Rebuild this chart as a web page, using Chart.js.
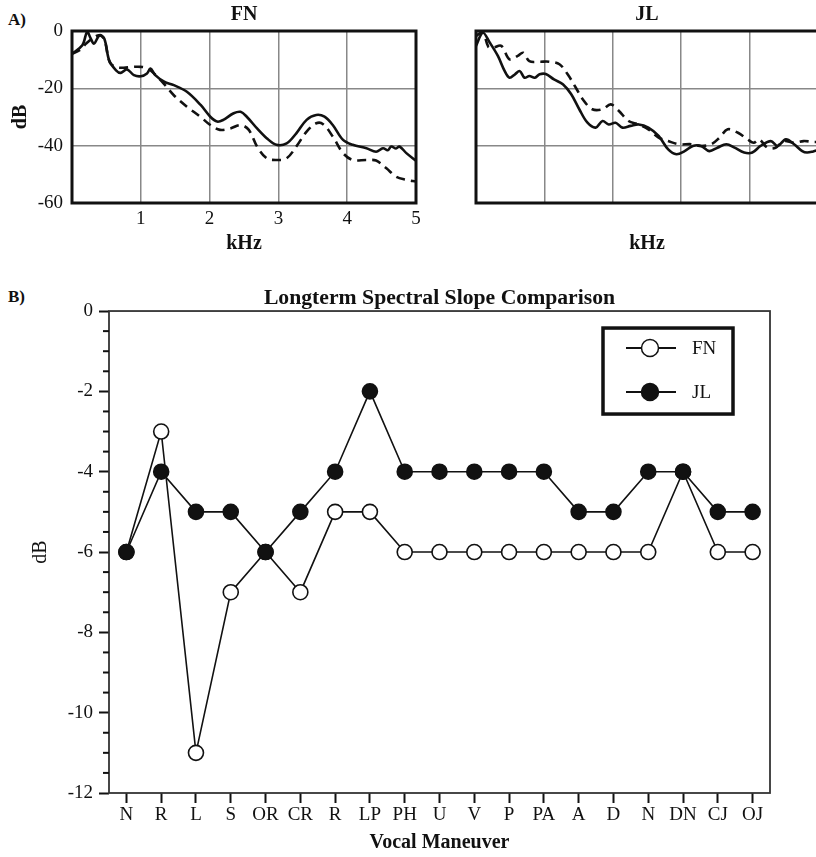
<!DOCTYPE html>
<html>
<head>
<meta charset="utf-8">
<title>Spectral slope</title>
<script src="https://cdn.jsdelivr.net/npm/chart.js@4.4.1/dist/chart.umd.min.js"></script>
<style>
  html, body { margin: 0; padding: 0; background: #fff; overflow: hidden; }
  #page { position: relative; width: 816px; height: 857px; overflow: hidden;
          font-family: "Liberation Serif", "Times New Roman", serif; color: #111; }
  canvas { position: absolute; }
  .tag { position: absolute; font-weight: bold; font-size: 17px; line-height: 20px; }
</style>
</head>
<body>
<div id="page">
  <div class="tag" style="left:8px;top:10px">A)</div>
  <div class="tag" style="left:8px;top:287px">B)</div>
  <canvas id="fn" width="430" height="262" style="left:0;top:0"></canvas>
  <canvas id="jl" width="392" height="262" style="left:440px;top:0"></canvas>
  <canvas id="slope" width="816" height="582" style="left:0;top:275px"></canvas>
</div>
<script>
// A) spectra (kHz / dB)
const fnSolidKhz = [0, 0.15, 0.22, 0.27, 0.32, 0.4, 0.47, 0.54, 0.64, 0.71, 0.8, 0.9, 1.0, 1.09, 1.14, 1.21,
  1.34, 1.48, 1.67, 1.87, 2.01, 2.11, 2.2, 2.35, 2.45, 2.54, 2.69, 2.83, 2.97, 3.12, 3.26, 3.41, 3.55,
  3.67, 3.79, 3.94, 4.08, 4.28, 4.42, 4.52, 4.59, 4.64, 4.71, 4.76, 4.86, 5.0];
const fnSolidDb = [-7.9, -5, -0.3, -2.5, -4.4, -1.5, -2.7, -10.2, -13.7, -14.6, -13.4, -15.4, -15.8, -14.8, -13.1, -15.4,
  -17.7, -18.9, -21.2, -25.8, -29.9, -31.6, -31, -28.7, -28.2, -29.9, -34, -37.4, -39.7, -39.2, -35.7, -31, -29.3,
  -29.9, -32.8, -38, -39.7, -40.9, -42.1, -40.9, -41.6, -40.3, -41, -40.3, -42.6, -45.3];

const fnDashKhz = [0, 0.12, 0.2, 0.3, 0.4, 0.47, 0.55, 0.64, 0.75, 0.9, 1.0, 1.1, 1.2, 1.34, 1.48, 1.67, 1.87,
  2.01, 2.15, 2.3, 2.45, 2.57, 2.69, 2.83, 2.97, 3.12, 3.26, 3.41, 3.55, 3.65, 3.79, 3.94, 4.08, 4.28, 4.42,
  4.57, 4.71, 4.86, 5.0];
const fnDashDb = [-8, -6.5, -4.5, -2.5, -1.5, -3, -11, -12.6, -12.8, -12.5, -12.5, -13, -15, -18.5, -22.4, -26.4, -30,
  -32.8, -34.5, -34, -32.8, -34.5, -40.3, -44.4, -45, -44.4, -40.3, -35.1, -32.2, -32.5, -36.8, -42.6, -45, -45, -45.2,
  -47.9, -50.8, -51.9, -52.5];

const jlSolidKhz = [0, 0.1, 0.2, 0.32, 0.42, 0.49, 0.57, 0.64, 0.71, 0.78, 0.86, 0.93, 1.02, 1.14, 1.27, 1.39,
  1.51, 1.63, 1.75, 1.85, 1.94, 2.04, 2.14, 2.26, 2.38, 2.52, 2.67, 2.81, 2.93, 3.05, 3.17, 3.29, 3.41, 3.53,
  3.66, 3.78, 3.92, 4.04, 4.16, 4.31, 4.41, 4.53, 4.65, 4.77, 4.84, 4.93, 5.0];
const jlSolidDb = [-5.2, -0.6, -4, -8.7, -14, -16.3, -15.1, -14, -16.3, -15.7, -16.3, -15.1, -15, -16.9, -18.6, -22,
  -27.3, -32, -33.7, -31.4, -32.6, -32, -33.7, -33.1, -32.6, -33.7, -36.6, -41.3, -43, -41.9, -40.1, -40.1, -41.9, -40.7,
  -39.5, -40.7, -42.4, -42.4, -40.1, -38.4, -40.1, -37.8, -39.5, -41.9, -42.4, -42, -41.5];

const jlDashKhz = [0, 0.1, 0.18, 0.25, 0.37, 0.49, 0.61, 0.69, 0.78, 0.93, 1.07, 1.22, 1.34, 1.46, 1.56, 1.7,
  1.85, 1.97, 2.09, 2.23, 2.38, 2.52, 2.67, 2.81, 2.96, 3.15, 3.29, 3.44, 3.56, 3.68, 3.83, 3.97, 4.06, 4.14,
  4.26, 4.38, 4.5, 4.65, 4.79, 4.93, 5.0];
const jlDashDb = [-1.7, -0.5, -5.5, -5.8, -5.2, -9.9, -8.7, -7.6, -10.5, -10.7, -10.7, -11.6, -15.1, -19.8, -23.8, -27.3,
  -27.3, -25.6, -27.9, -31.4, -32.6, -34.3, -37.2, -38.4, -39.5, -39.5, -40.1, -39.5, -37.2, -34.3, -35.5, -37.8, -39, -37.8,
  -40.7, -40.7, -38.4, -39, -38.4, -38.7, -38.7];

// B) longterm spectral slope per vocal maneuver (dB)
const maneuvers = ["N", "R", "L", "S", "OR", "CR", "R", "LP", "PH", "U", "V", "P", "PA", "A", "D", "N", "DN", "CJ", "OJ"];
const fnSlope = [-6, -3, -11, -7, -6, -7, -5, -5, -6, -6, -6, -6, -6, -6, -6, -6, -4, -6, -6];
const jlSlope = [-6, -4, -5, -5, -6, -5, -4, -2, -4, -4, -4, -4, -4, -5, -5, -4, -4, -5, -5];

const INK = "#111";
Chart.defaults.font.family = '"Liberation Serif", "Times New Roman", serif';
Chart.defaults.color = INK;

// box round the plot area
const framePlugin = {
  id: "frame",
  afterDraw(chart, args, opts) {
    const a = chart.chartArea;
    const ctx = chart.ctx;
    ctx.save();
    ctx.strokeStyle = opts.color || INK;
    ctx.lineWidth = opts.width || 1;
    ctx.strokeRect(a.left, a.top, a.right - a.left, a.bottom - a.top);
    ctx.restore();
  },
};

function pairs(xs, ys) {
  return xs.map((x, i) => ({ x: x, y: ys[i] }));
}

function spectrum(id, title, solid, dashed, withLabels, leftWidth) {
  const tickFont = { size: 19 };
  const titleFont = { size: 20, weight: "bold" };
  return new Chart(document.getElementById(id), {
    type: "line",
    data: {
      datasets: [
        { data: solid, borderColor: INK, borderWidth: 2.6, pointRadius: 0, tension: 0.35 },
        { data: dashed, borderColor: INK, borderWidth: 2.6, borderDash: [9, 6], pointRadius: 0, tension: 0.35 },
      ],
    },
    options: {
      responsive: false,
      animation: false,
      events: [],
      layout: { padding: { left: 0, right: 14, top: 0, bottom: 0 } },
      plugins: {
        legend: { display: false },
        tooltip: { enabled: false },
        title: { display: true, text: title, fullSize: false, font: titleFont, color: INK,
                 padding: { top: 3, bottom: 4 } },
        frame: { width: 3, color: INK },
      },
      scales: {
        x: {
          type: "linear", min: 0, max: 5,
          ticks: { display: withLabels, stepSize: 1, padding: 5, font: tickFont, color: INK,
                   callback: (v) => (v === 0 ? "" : v) },
          grid: { color: "#888", lineWidth: 1.5, drawTicks: false },
          border: { display: false },
          title: { display: true, text: "kHz", font: titleFont, color: INK, padding: { top: 0, bottom: 6 } },
          afterFit: (s) => { s.height = 59; },
        },
        y: {
          min: -60, max: 0,
          ticks: { display: withLabels, stepSize: 20, padding: 9, font: tickFont, color: INK },
          grid: { color: "#888", lineWidth: 1.5, drawTicks: false },
          border: { display: false },
          title: { display: withLabels, text: "dB", font: titleFont, color: INK, padding: { top: 9, bottom: 0 } },
          afterFit: (s) => { s.width = leftWidth; },
        },
      },
    },
    plugins: [framePlugin],
  });
}

spectrum("fn", "FN", pairs(fnSolidKhz, fnSolidDb), pairs(fnDashKhz, fnDashDb), true, 72);
spectrum("jl", "JL", pairs(jlSolidKhz, jlSolidDb), pairs(jlDashKhz, jlDashDb), false, 36);

// short ticks between the labelled ones
const minorTicks = {
  id: "minorTicks",
  afterDraw(chart) {
    const s = chart.scales.y;
    const ctx = chart.ctx;
    ctx.save();
    ctx.strokeStyle = INK;
    ctx.lineWidth = 2;
    s.ticks.forEach((t) => {
      if (t.value % 2 === 0) return;
      const y = s.getPixelForValue(t.value);
      ctx.beginPath();
      ctx.moveTo(s.right - 6, y);
      ctx.lineTo(s.right, y);
      ctx.stroke();
    });
    ctx.restore();
  },
};

// boxed legend in the upper right corner
const boxLegend = {
  id: "boxLegend",
  afterDraw(chart) {
    const ctx = chart.ctx;
    const a = chart.chartArea;
    const x0 = a.right - 167, y0 = a.top + 17, w = 130, h = 86;
    ctx.save();
    ctx.lineWidth = 3.5;
    ctx.strokeStyle = INK;
    ctx.strokeRect(x0, y0, w, h);
    chart.data.datasets.forEach((ds, i) => {
      const y = y0 + 20 + i * 44;
      ctx.lineWidth = 2;
      ctx.beginPath();
      ctx.moveTo(x0 + 23, y);
      ctx.lineTo(x0 + 73, y);
      ctx.stroke();
      ctx.beginPath();
      ctx.arc(x0 + 47, y, 8.5, 0, Math.PI * 2);
      ctx.fillStyle = ds.pointBackgroundColor;
      ctx.fill();
      ctx.lineWidth = 1.5;
      ctx.stroke();
      ctx.fillStyle = INK;
      ctx.font = '19px "Liberation Serif", serif';
      ctx.textBaseline = "middle";
      ctx.fillText(ds.label, x0 + 89, y + 1);
    });
    ctx.restore();
  },
};

new Chart(document.getElementById("slope"), {
  type: "line",
  data: {
    labels: maneuvers,
    datasets: [
      { label: "FN", data: fnSlope, order: 1, borderColor: INK, borderWidth: 1.6, tension: 0,
        pointRadius: 7.5, pointBackgroundColor: "#fff", pointBorderColor: INK, pointBorderWidth: 1.6 },
      { label: "JL", data: jlSlope, order: 0, borderColor: INK, borderWidth: 1.6, tension: 0,
        pointRadius: 7.5, pointBackgroundColor: INK, pointBorderColor: INK, pointBorderWidth: 1.6 },
    ],
  },
  options: {
    responsive: false,
    animation: false,
    events: [],
    layout: { padding: { left: 0, right: 46, top: 0, bottom: 0 } },
    plugins: {
      legend: { display: false },
      tooltip: { enabled: false },
      title: { display: true, text: "Longterm Spectral Slope Comparison", fullSize: false,
               font: { size: 21.7, weight: "bold" }, color: INK, padding: { top: 10, bottom: 0 } },
      frame: { width: 1.8, color: "#333" },
    },
    scales: {
      x: {
        offset: true,
        ticks: { autoSkip: false, maxRotation: 0, padding: 1, font: { size: 19 }, color: INK },
        grid: { offset: false, drawOnChartArea: false, drawTicks: true, tickLength: 10, tickWidth: 2, tickColor: INK },
        border: { display: false },
        title: { display: true, text: "Vocal Maneuver", font: { size: 20, weight: "bold" }, color: INK,
                 padding: { top: 0, bottom: 2 } },
        afterFit: (s) => { s.height = 64; },
      },
      y: {
        min: -12, max: 0,
        ticks: { stepSize: 0.5, autoSkip: false, padding: 6, font: { size: 19 }, color: INK,
                 callback: (v) => (v % 2 === 0 ? v : "") },
        grid: { drawOnChartArea: false, drawTicks: true, tickLength: 10, tickWidth: 2,
                tickColor: (c) => (c.tick && c.tick.value % 2 === 0 ? INK : "rgba(0,0,0,0)") },
        border: { display: false },
        title: { display: true, text: "dB", font: { size: 20 }, color: INK, padding: { top: 29, bottom: 0 } },
        afterFit: (s) => { s.width = 109; },
      },
    },
  },
  plugins: [framePlugin, minorTicks, boxLegend],
});
</script>
</body>
</html>
